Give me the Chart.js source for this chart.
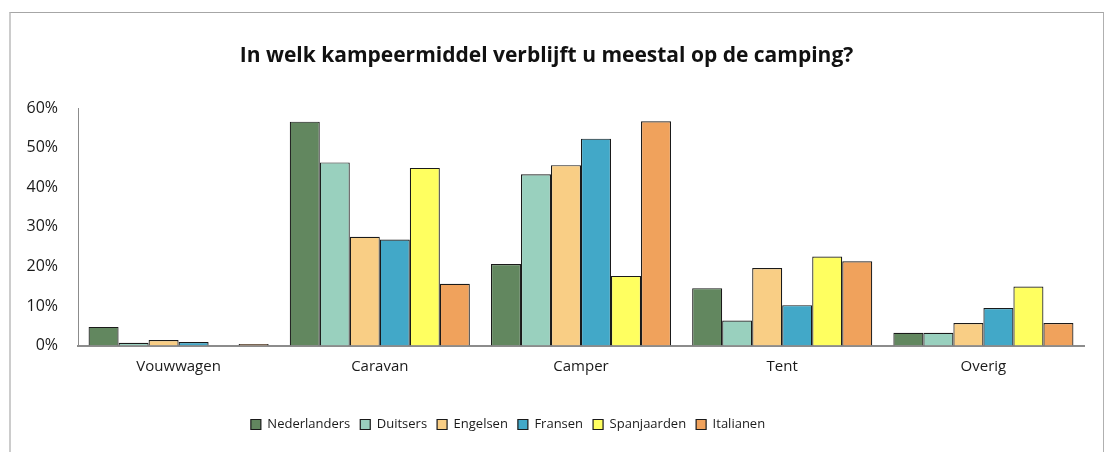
<!DOCTYPE html>
<html>
<head>
<meta charset="utf-8">
<script src="https://cdn.jsdelivr.net/npm/chart.js@4.4.1/dist/chart.umd.min.js"></script>
<style>
  html, body { margin: 0; padding: 0; background: #ffffff; }
  body { width: 1107px; height: 452px; position: relative; overflow: hidden; }
  #frame { position: absolute; left: 9px; top: 12px; width: 1092px; height: 460px;
           border-top: 1px solid #a6a6a6; border-left: 2px solid #cccccc; border-right: 1px solid #b0b0b0; }
  #wrap { position: absolute; left: 0; top: 0; width: 1107px; height: 452px; }
</style>
</head>
<body>
<div id="frame"></div>
<div id="wrap"><canvas id="c" width="1107" height="452"></canvas></div>
<script>
const categories = ['Vouwwagen', 'Caravan', 'Camper', 'Tent', 'Overig'];
const seriesNames = ['Nederlanders', 'Duitsers', 'Engelsen', 'Fransen', 'Spanjaarden', 'Italianen'];
const nederlanders = [4.7, 56.6, 20.6, 14.5, 3.2];
const duitsers     = [0.7, 46.3, 43.3, 6.3, 3.2];
const engelsen     = [1.4, 27.5, 45.6, 19.6, 5.7];
const fransen      = [0.9, 26.8, 52.3, 10.2, 9.5];
const spanjaarden  = [0.0, 44.9, 17.6, 22.5, 14.9];
const italianen    = [0.4, 15.6, 56.7, 21.3, 5.7];
const yTicks = [0, 10, 20, 30, 40, 50, 60];
const titleText = 'In welk kampeermiddel verblijft u meestal op de camping?';

const seriesValues = [nederlanders, duitsers, engelsen, fransen, spanjaarden, italianen];
const colors = ['#62875f', '#99d0be', '#f9ce85', '#42a8c8', '#ffff60', '#f0a25c'];

const FONT = "'Open Sans', 'Noto Sans', sans-serif";

const shiftBoxes = {
  id: 'shiftBoxes',
  afterLayout(chart) {
    const l = chart.legend;
    if (l) { l.left -= 34; l.right -= 34; }
    const t = chart.titleBlock;
    if (t) { t.left += 4.5; t.right += 4.5; }
  }
};

new Chart(document.getElementById('c'), {
  type: 'bar',
  data: {
    labels: categories,
    datasets: seriesNames.map((name, i) => ({
      label: name,
      data: seriesValues[i],
      backgroundColor: colors[i],
      borderColor: '#1a1a1a',
      borderWidth: 1.2,
      categoryPercentage: 0.895,
      barPercentage: 1.0
    }))
  },
  options: {
    responsive: false,
    animation: false,
    devicePixelRatio: 1,
    layout: { padding: { left: 0, right: 23, top: 0, bottom: 11 } },
    plugins: {
      title: {
        display: true,
        text: titleText,
        color: '#111111',
        font: { family: FONT, size: 21, weight: 'bold' },
        padding: { top: 43, bottom: 40 }
      },
      legend: {
        position: 'bottom',
        labels: {
          boxWidth: 10,
          boxHeight: 10,
          padding: 10,
          color: '#1a1a1a',
          font: { family: FONT, size: 13 }
        }
      },
      tooltip: { enabled: false }
    },
    scales: {
      x: {
        grid: { display: false, drawTicks: false },
        border: { display: true, color: '#8c8c8c', width: 2 },
        ticks: { color: '#1a1a1a', font: { family: FONT, size: 15 }, padding: 12.5 },
        afterFit(s) { s.height = 62.5; }
      },
      y: {
        min: 0,
        max: 60,
        grid: { display: false, drawTicks: false },
        border: { display: true, color: '#8c8c8c', width: 1 },
        afterBuildTicks(s) { s.ticks = yTicks.map(v => ({ value: v })); },
        ticks: {
          color: '#1a1a1a',
          font: { family: FONT, size: 16 },
          padding: 20,
          callback: v => v + '%'
        },
        afterFit(s) { s.width = 78; }
      }
    }
  },
  plugins: [shiftBoxes]
});
</script>
</body>
</html>
